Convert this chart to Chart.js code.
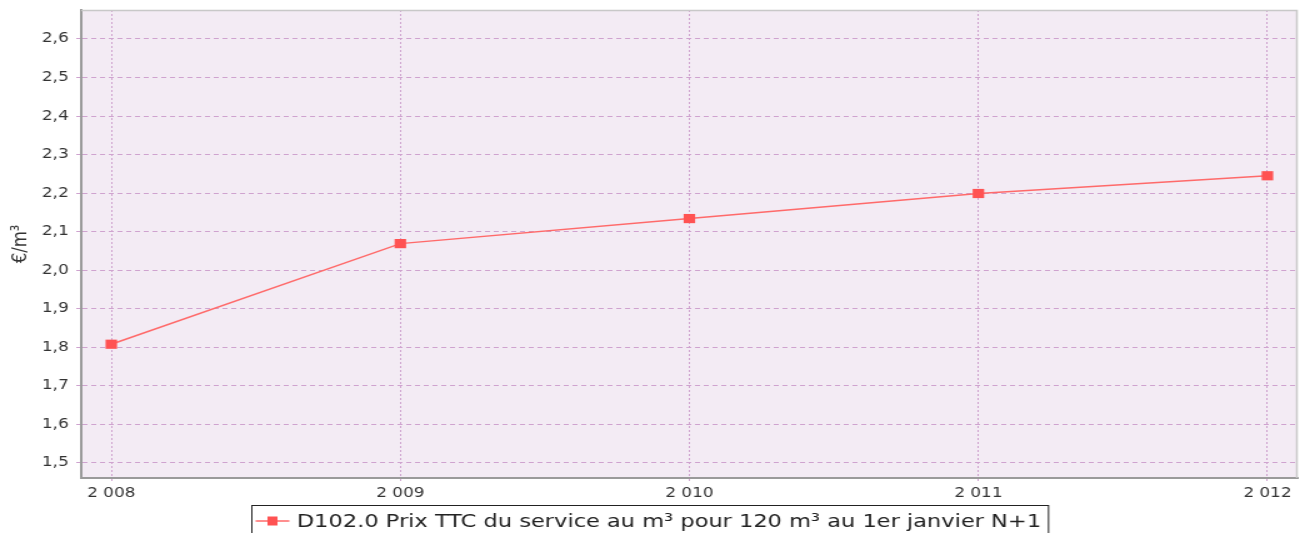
<!DOCTYPE html>
<html>
<head>
<meta charset="utf-8">
<script src="https://cdn.jsdelivr.net/npm/chart.js@4/dist/chart.umd.min.js"></script>
<style>
  html, body { margin: 0; padding: 0; background: #ffffff; overflow: hidden; }
  #c { width: 1300px !important; height: 533px !important; display: block; }
</style>
</head>
<body>
<canvas id="c" width="1040" height="533"></canvas>
<script>
const years = [2008, 2009, 2010, 2011, 2012];
const prices = [1.808, 2.069, 2.134, 2.199, 2.245];
const seriesLabel = 'D102.0 Prix TTC du service au m³ pour 120 m³ au 1er janvier N+1';
const xTickValues = [2008, 2009, 2010, 2011, 2012];
const xTickLabels = ['2 008', '2 009', '2 010', '2 011', '2 012'];
const yTickValues = [1.5, 1.6, 1.7, 1.8, 1.9, 2.0, 2.1, 2.2, 2.3, 2.4, 2.5, 2.6];
const yTickLabels = ['1,5', '1,6', '1,7', '1,8', '1,9', '2,0', '2,1', '2,2', '2,3', '2,4', '2,5', '2,6'];
const yAxisTitle = '€/m³';

const FONT = '"DejaVu Sans", sans-serif';
const RED = '#ff5252';
const LINE_RED = '#ff6a6a';
const GRID = '#cfa3cf';

const plotBg = {
  id: 'plotBg',
  beforeDraw(chart) {
    const { ctx, chartArea: a } = chart;
    ctx.save();
    ctx.fillStyle = '#f3ebf4';
    ctx.fillRect(a.left, a.top, a.right - a.left, a.bottom - a.top);
    ctx.restore();
  },
  beforeDatasetsDraw(chart) {
    const { ctx, chartArea: a } = chart;
    ctx.save();
    ctx.strokeStyle = '#c8c8c8';
    ctx.lineWidth = 1.5;
    ctx.beginPath();
    ctx.moveTo(a.left, a.top + 0.5);
    ctx.lineTo(a.right - 0.5, a.top + 0.5);
    ctx.lineTo(a.right - 0.5, a.bottom);
    ctx.stroke();
    ctx.restore();
  }
};

const boxLegend = {
  id: 'boxLegend',
  afterDraw(chart) {
    const { ctx } = chart;
    const ds = chart.data.datasets[0];
    ctx.save();
    ctx.font = '18px ' + FONT;
    const tw = ctx.measureText(ds.label).width;
    const sample = 27, gapL = 3, gapM = 6, gapR = 6;
    const w = gapL + sample + gapM + tw + gapR;
    const left = Math.round(chart.width / 2 - w / 2) + 0.5;
    const top = 505.5;
    const midY = 521;
    ctx.fillStyle = '#ffffff';
    ctx.fillRect(left, top, w, 40);
    ctx.strokeStyle = '#222222';
    ctx.lineWidth = 1;
    ctx.strokeRect(left, top, w, 40);
    const sx = left + gapL;
    ctx.strokeStyle = ds.borderColor;
    ctx.lineWidth = 1.5;
    ctx.beginPath();
    ctx.moveTo(sx, midY);
    ctx.lineTo(sx + sample, midY);
    ctx.stroke();
    ctx.fillStyle = ds.pointBackgroundColor;
    ctx.fillRect(sx + sample / 2 - 4, midY - 4.5, 8, 9);
    ctx.fillStyle = '#222222';
    ctx.textBaseline = 'middle';
    ctx.textAlign = 'left';
    ctx.fillText(ds.label, sx + sample + gapM, midY + 1);
    ctx.restore();
  }
};

new Chart(document.getElementById('c'), {
  type: 'line',
  data: {
    datasets: [{
      label: seriesLabel,
      data: years.map((y, i) => ({ x: y, y: prices[i] })),
      borderColor: LINE_RED,
      borderWidth: 1.5,
      pointStyle: 'rect',
      pointRadius: 6.5,
      pointBackgroundColor: RED,
      pointBorderColor: RED,
      pointBorderWidth: 0,
      tension: 0,
      fill: false
    }]
  },
  options: {
    responsive: false,
    devicePixelRatio: 1,
    animation: false,
    events: [],
    layout: { autoPadding: false, padding: { top: 10, right: 2, left: 0, bottom: 0 } },
    plugins: {
      legend: { display: false },
      tooltip: { enabled: false }
    },
    scales: {
      x: {
        type: 'linear',
        min: 2007.896,
        max: 2012.104,
        afterBuildTicks(s) { s.ticks = xTickValues.map(v => ({ value: v })); },
        afterFit(s) { s.height = 55; s.paddingLeft = 0; s.paddingRight = 0; },
        ticks: {
          autoSkip: false,
          maxRotation: 0,
          padding: 3,
          color: '#333333',
          font: { family: FONT, size: 13.5 },
          callback(v) { const i = xTickValues.indexOf(v); return i >= 0 ? xTickLabels[i] : ''; }
        },
        grid: {
          color: GRID,
          lineWidth: 1,
          tickLength: 4,
          tickColor: GRID,
          tickBorderDash: [2, 2]
        },
        border: { display: true, color: '#9a9a9a', width: 2, dash: [2, 2] }
      },
      y: {
        type: 'linear',
        min: 1.461,
        max: 2.675,
        afterBuildTicks(s) { s.ticks = yTickValues.map(v => ({ value: v })); },
        afterFit(s) { s.width = 65; s.paddingTop = 0; s.paddingBottom = 0; },
        ticks: {
          autoSkip: false,
          padding: 6,
          color: '#333333',
          font: { family: FONT, size: 13.5 },
          callback(v) {
            const i = yTickValues.findIndex(t => Math.abs(t - v) < 1e-9);
            return i >= 0 ? yTickLabels[i] : '';
          }
        },
        grid: {
          color: GRID,
          lineWidth: 1,
          tickLength: 4,
          tickColor: GRID,
          tickBorderDash: [4, 3]
        },
        border: { display: true, color: '#9a9a9a', width: 2, dash: [4, 3] },
        title: {
          display: true,
          text: yAxisTitle,
          color: '#333333',
          font: { family: FONT, size: 16.5 },
          padding: { top: 7, bottom: 0 }
        }
      }
    }
  },
  plugins: [plotBg, boxLegend]
});
</script>
</body>
</html>
